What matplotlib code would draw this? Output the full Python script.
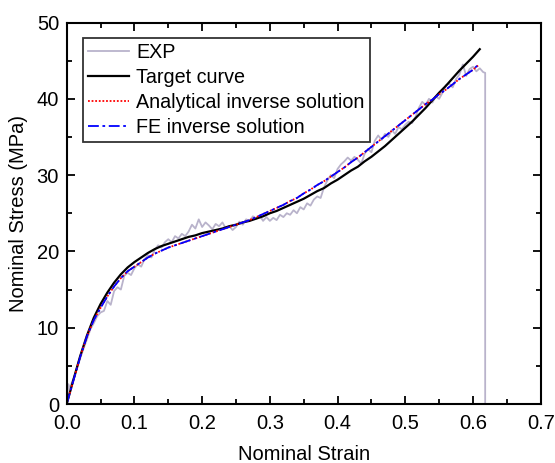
import matplotlib
matplotlib.use("Agg")
import matplotlib.pyplot as plt
from matplotlib.ticker import MultipleLocator

plt.rcParams['font.family'] = ['Liberation Sans', 'DejaVu Sans']

# ---------------- data ----------------
exp_strain = [0.000, 0.0025, 0.005, 0.0075, 0.010, 0.015, 0.020, 0.025, 0.030, 0.035,
              0.040, 0.045, 0.050, 0.055, 0.060, 0.065, 0.070, 0.075, 0.080, 0.085,
              0.090, 0.095, 0.100, 0.105, 0.110, 0.115, 0.120, 0.125, 0.130, 0.135,
              0.140, 0.145, 0.150, 0.155, 0.160, 0.165, 0.170, 0.175, 0.180, 0.185,
              0.190, 0.195, 0.200, 0.205, 0.210, 0.215, 0.220, 0.225, 0.230, 0.235,
              0.240, 0.245, 0.250, 0.255, 0.260, 0.265, 0.270, 0.275, 0.280, 0.285,
              0.290, 0.295, 0.300, 0.305, 0.310, 0.315, 0.320, 0.325, 0.330, 0.335,
              0.340, 0.345, 0.350, 0.355, 0.360, 0.365, 0.370, 0.375, 0.380, 0.385,
              0.390, 0.395, 0.400, 0.405, 0.410, 0.415, 0.420, 0.425, 0.430, 0.435,
              0.440, 0.445, 0.450, 0.455, 0.460, 0.465, 0.470, 0.475, 0.480, 0.485,
              0.490, 0.495, 0.500, 0.505, 0.510, 0.515, 0.520, 0.525, 0.530, 0.535,
              0.540, 0.545, 0.550, 0.555, 0.560, 0.565, 0.570, 0.575, 0.580, 0.585,
              0.590, 0.595, 0.600, 0.605, 0.610, 0.615, 0.618, 0.618]
exp_stress = [0.0, 2.6, 2.0, 2.8, 3.3, 4.6, 6.0, 7.3, 8.5, 9.8,
              10.6, 11.5, 12.0, 12.2, 13.5, 13.0, 14.8, 15.3, 15.0, 16.8,
              17.2, 16.9, 17.8, 18.3, 18.0, 19.0, 19.5, 19.2, 20.2, 20.8,
              20.5, 21.2, 21.6, 21.2, 22.0, 21.7, 22.3, 22.0, 22.6, 23.5,
              23.0, 24.2, 23.2, 23.8, 23.4, 22.9, 23.6, 23.3, 23.8, 23.0,
              23.3, 22.8, 23.2, 23.9, 23.5, 24.2, 24.0, 24.6, 24.3, 24.7,
              24.0, 24.5, 24.0, 24.4, 24.1, 24.8, 24.5, 25.0, 24.8, 25.4,
              25.0, 25.8, 25.5, 26.3, 26.0, 26.8, 27.2, 27.0, 28.4, 29.3,
              30.0, 29.6, 30.8, 31.4, 31.8, 32.3, 31.9, 32.4, 32.0, 31.5,
              32.8, 33.4, 33.0, 34.5, 35.2, 34.6, 35.4, 35.0, 35.9, 35.4,
              36.3, 36.0, 36.6, 37.0, 36.8, 37.6, 38.8, 39.6, 39.2, 40.0,
              39.5, 40.3, 40.0, 40.8, 41.8, 42.0, 41.5, 42.6, 43.2, 44.5,
              43.0, 43.9, 44.2, 43.6, 44.0, 43.5, 43.4, 0.0]

target_strain = [0.00, 0.01, 0.02, 0.03, 0.04, 0.05, 0.06, 0.07, 0.08, 0.09,
                 0.10, 0.11, 0.12, 0.13, 0.14, 0.15, 0.16, 0.17, 0.18, 0.19,
                 0.20, 0.21, 0.22, 0.23, 0.24, 0.25, 0.26, 0.27, 0.28, 0.29,
                 0.30, 0.31, 0.32, 0.33, 0.34, 0.35, 0.36, 0.37, 0.38, 0.39,
                 0.40, 0.41, 0.42, 0.43, 0.44, 0.45, 0.46, 0.47, 0.48, 0.49,
                 0.50, 0.51, 0.52, 0.53, 0.54, 0.55, 0.56, 0.57, 0.58, 0.59,
                 0.60, 0.61]
target_stress = [0.0, 3.2, 6.3, 9.0, 11.3, 13.1, 14.6, 15.9, 17.0, 17.9,
                 18.6, 19.2, 19.8, 20.3, 20.7, 21.0, 21.3, 21.6, 21.9, 22.1,
                 22.4, 22.6, 22.8, 23.0, 23.3, 23.5, 23.8, 24.0, 24.3, 24.6,
                 25.0, 25.3, 25.7, 26.1, 26.5, 26.9, 27.4, 27.9, 28.3, 28.9,
                 29.4, 30.0, 30.6, 31.1, 31.8, 32.4, 33.1, 33.8, 34.6, 35.4,
                 36.2, 37.0, 37.9, 38.8, 39.8, 40.8, 41.7, 42.7, 43.7, 44.6,
                 45.5, 46.5]

inv_strain = [0.00, 0.01, 0.02, 0.03, 0.04, 0.05, 0.06, 0.07, 0.08, 0.09,
              0.10, 0.11, 0.12, 0.13, 0.14, 0.15, 0.16, 0.17, 0.18, 0.19,
              0.20, 0.21, 0.22, 0.23, 0.24, 0.25, 0.26, 0.27, 0.28, 0.29,
              0.30, 0.31, 0.32, 0.33, 0.34, 0.35, 0.36, 0.37, 0.38, 0.39,
              0.40, 0.41, 0.42, 0.43, 0.44, 0.45, 0.46, 0.47, 0.48, 0.49,
              0.50, 0.51, 0.52, 0.53, 0.54, 0.55, 0.56, 0.57, 0.58, 0.59,
              0.60, 0.608]
ana_stress = [0.0, 3.1, 6.2, 8.9, 11.0, 12.6, 14.1, 15.4, 16.5, 17.4,
              18.0, 18.6, 19.2, 19.7, 20.1, 20.5, 20.8, 21.1, 21.4, 21.7,
              22.0, 22.3, 22.6, 22.9, 23.2, 23.5, 23.8, 24.1, 24.5, 24.9,
              25.3, 25.7, 26.1, 26.6, 27.0, 27.6, 28.1, 28.7, 29.2, 29.8,
              30.4, 31.0, 31.7, 32.3, 33.0, 33.7, 34.4, 35.1, 35.8, 36.5,
              37.2, 37.9, 38.6, 39.3, 39.9, 40.6, 41.2, 41.9, 42.6, 43.2,
              43.8, 44.4]
fe_stress = [0.0, 3.1, 6.2, 8.9, 11.0, 12.6, 14.1, 15.4, 16.5, 17.4,
             18.0, 18.6, 19.2, 19.7, 20.1, 20.5, 20.8, 21.1, 21.4, 21.7,
             22.0, 22.3, 22.6, 22.9, 23.2, 23.5, 23.8, 24.1, 24.5, 24.9,
             25.3, 25.7, 26.1, 26.6, 27.0, 27.6, 28.1, 28.7, 29.2, 29.8,
             30.4, 31.0, 31.7, 32.3, 33.0, 33.7, 34.4, 35.1, 35.8, 36.5,
             37.2, 37.9, 38.6, 39.3, 39.9, 40.6, 41.2, 41.9, 42.6, 43.2,
             43.8, 44.5]

labels = ["EXP", "Target curve", "Analytical inverse solution", "FE inverse solution"]
x_ticks = [0.0, 0.1, 0.2, 0.3, 0.4, 0.5, 0.6, 0.7]
y_ticks = [0, 10, 20, 30, 40, 50]

# ---------------- plot ----------------
fig = plt.figure(figsize=(5.55, 4.63), dpi=100)
ax = fig.add_axes([66.7/555, 1 - 404/463, (540.7 - 66.7)/555, (404 - 22.5)/463])

ax.plot(exp_strain, exp_stress, color='#b9b3cb', lw=1.3, label=labels[0])
ax.plot(target_strain, target_stress, color='black', lw=1.6, label=labels[1])
ax.plot(inv_strain, ana_stress, color='red', lw=1.3, ls=(0, (1, 1)), label=labels[2])
ax.plot(inv_strain, fe_stress, color='blue', lw=1.3, ls=(0, (6, 2, 1.5, 2)), label=labels[3])

ax.set_xlim(0, 0.7)
ax.set_ylim(0, 50)
ax.set_xticks(x_ticks)
ax.set_xticklabels([f"{v:.1f}" for v in x_ticks])
ax.set_yticks(y_ticks)
ax.xaxis.set_minor_locator(MultipleLocator(0.05))
ax.yaxis.set_minor_locator(MultipleLocator(5))
ax.tick_params(which='both', direction='in', top=True, right=True, width=1.3,
               labelsize=14.5)
ax.tick_params(axis='x', which='major', pad=7)
ax.tick_params(axis='y', which='major', pad=5.5)
ax.tick_params(which='major', length=6)
ax.tick_params(which='minor', length=3.5)
for s in ax.spines.values():
    s.set_linewidth(1.5)

ax.set_xlabel("Nominal Strain", fontsize=14.5, labelpad=9)
ax.set_ylabel("Nominal Stress (MPa)", fontsize=14.5, labelpad=6)

leg = ax.legend(loc='upper left', bbox_to_anchor=(82.7/555, 1 - 37.7/463),
                bbox_transform=fig.transFigure, borderaxespad=0,
                fontsize=14.2, frameon=True, fancybox=False, edgecolor='black',
                handlelength=2.1, handletextpad=0.33, labelspacing=0.3,
                borderpad=0.27)
leg.get_frame().set_linewidth(1.3)

fig.savefig("out.png", dpi=100)
